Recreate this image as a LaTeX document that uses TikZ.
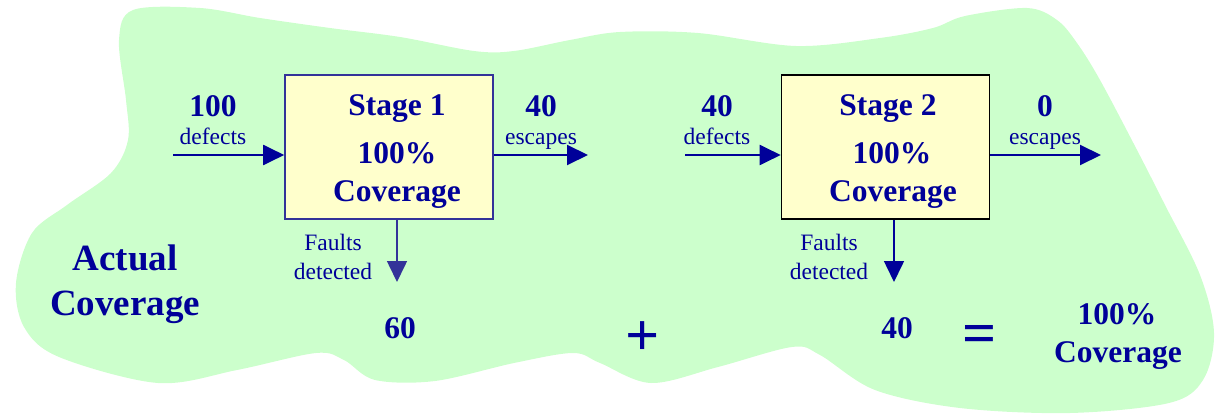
\documentclass[tikz,border=0pt]{standalone}
\usepackage{fontspec}
\setmainfont{Liberation Serif}[BoldFont={Liberation Serif Bold}]
\newfontfamily\timesface{Liberation Serif}[BoldFont={Liberation Serif Bold}]
\usetikzlibrary{arrows.meta}

\definecolor{ink}{RGB}{0,0,153}
\definecolor{inksoft}{RGB}{51,51,153}
\definecolor{blobgreen}{RGB}{204,255,204}
\definecolor{boxyellow}{RGB}{255,255,204}

\tikzset{
  big/.style={text=ink, font=\timesface\bfseries\fontsize{31.5}{34}\selectfont, inner sep=0pt, anchor=base},
  huge/.style={text=ink, font=\timesface\bfseries\fontsize{37}{40}\selectfont, inner sep=0pt, anchor=base},
  small/.style={text=ink, font=\timesface\fontsize{23.5}{26}\selectfont, inner sep=0pt, anchor=base},
  op/.style={text=ink, font=\timesface\bfseries\fontsize{60}{64}\selectfont, inner sep=0pt},
  stagebox/.style={draw, line width=1.6pt, fill=boxyellow, minimum width=208pt, minimum height=144pt, inner sep=0pt},
  flow/.style={draw=ink, line width=2pt, -{Triangle[length=21pt,width=20pt]}},
  drop/.style={line width=1.6pt, -{Triangle[length=21pt,width=20pt]}},
}

\begin{document}
\begin{tikzpicture}[x=1pt, y=-1pt]
\useasboundingbox (0,0) rectangle (1215,414);

% green cloud behind everything
\fill[blobgreen] plot[smooth cycle, tension=0.55] coordinates {
  (133,10) (200,8) (260,18) (330,28) (400,37) (474,51) (514,51) (570,40)
  (620,32) (698,33) (796,46) (880,38) (933,28) (965,16) (1027,8) (1057,20)
  (1077,43) (1100,80) (1137,150) (1165,205) (1200,275) (1214,333) (1203,380)
  (1169,403) (1070,413) (960,408) (875,390) (820,355) (792,347) (718,367)
  (651,383) (600,363) (573,353) (514,363) (435,381) (375,380) (344,360)
  (316,353) (237,370) (158,383) (59,357) (24,327) (16,283) (32,233)
  (67,205) (111,173) (128,140) (126,100) (119,40)};

% stage boxes
\node[stagebox, draw=inksoft] (s1) at (389,147) {};
\node[stagebox, draw=black] (s2) at (885.5,147) {};

\node[big] (s1a) at (397,116) {Stage 1};
\node[big] (s1b) at (397,164) {100\%};
\node[big] (s1c) at (397,202) {Coverage};
\node[big] (s2a) at (888,116) {Stage 2};
\node[big] (s2b) at (892,164) {100\%};
\node[big] (s2c) at (893,202) {Coverage};

% stage 1 flows
\coordinate (in1) at (173,155);
\coordinate (out1) at (588,155);
\coordinate (dn1) at (397,282);
\draw[flow] (in1) -- (in1 -| s1.west);
\draw[flow] (out1 -| s1.east) -- (out1);
\draw[drop, draw=inksoft, fill=inksoft] (dn1 |- s1.south) -- (dn1);

\node[big] (n100) at (213,117) {100};
\node[small] (def1) at (213,145) {defects};
\node[big] (n40a) at (541,117) {40};
\node[small] (esc1) at (541,145) {escapes};
\node[small] (f1a) at (333,250) {Faults};
\node[small] (f1b) at (333,279) {detected};

% stage 2 flows
\coordinate (in2) at (685,155);
\coordinate (out2) at (1101,155);
\coordinate (dn2) at (894,282);
\draw[flow] (in2) -- (in2 -| s2.west);
\draw[flow] (out2 -| s2.east) -- (out2);
\draw[drop, draw=ink, fill=ink] (dn2 |- s2.south) -- (dn2);

\node[big] (n40b) at (717,117) {40};
\node[small] (def2) at (717,145) {defects};
\node[big] (n0) at (1045,117) {0};
\node[small] (esc2) at (1045,145) {escapes};
\node[small] (f2a) at (829,250) {Faults};
\node[small] (f2b) at (829,279) {detected};

% bottom sum
\node[huge] (act1) at (125,270) {Actual};
\node[huge] (act2) at (125,315) {Coverage};
\node[big] (r60) at (400,338) {60};
\node[op] (plus) at (643,339) {+};
\node[big] (r40) at (897,338) {40};
\node[op] (eq) at (980,339) {=};
\node[big] (tot1) at (1117,324) {100\%};
\node[big] (tot2) at (1118,362) {Coverage};
\end{tikzpicture}
\end{document}
